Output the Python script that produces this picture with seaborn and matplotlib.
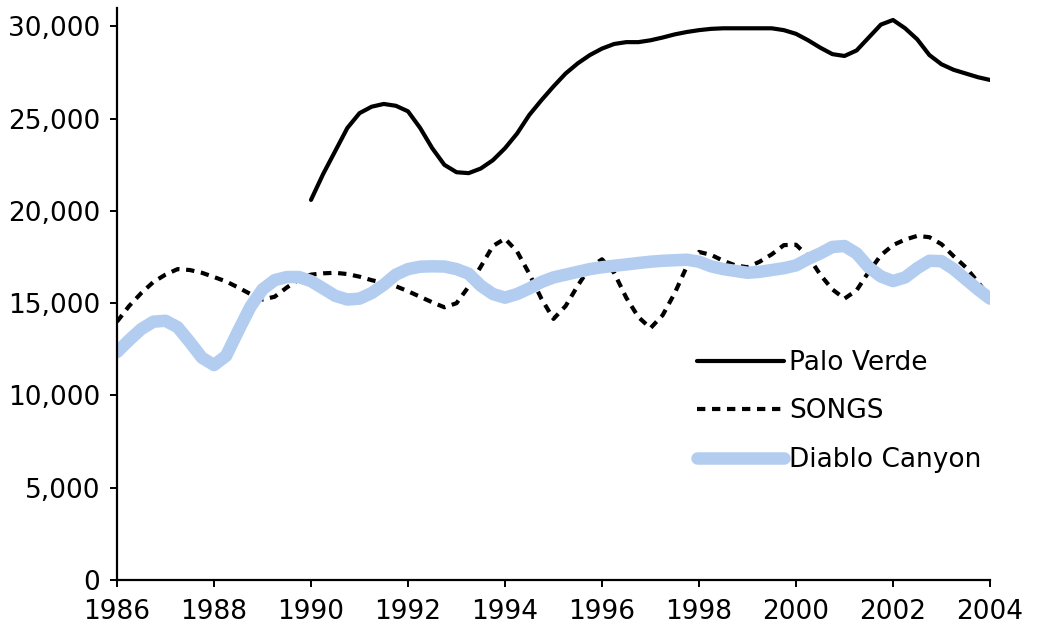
import numpy as np
import pandas as pd
import seaborn as sns
import matplotlib.pyplot as plt
from matplotlib.ticker import FuncFormatter

# quarterly readings, 1986.00 .. 2004.00
years = [1986 + 0.25 * k for k in range(73)]

songs = [14000, 14850, 15550, 16150, 16550, 16850, 16800, 16650,
         16420, 16180, 15850, 15500, 15200, 15350, 15850, 16300,
         16550, 16620, 16650, 16580, 16440, 16250, 16100, 15920,
         15650, 15350, 15050, 14780, 15000, 15900, 16980, 18100,
         18500, 17800, 16600, 15250, 14150, 14850, 15950, 16950,
         17380, 16650, 15300, 14250, 13650, 14350, 15550, 17000,
         17780, 17620, 17300, 17050, 16950, 17250, 17650, 18150,
         18170, 17550, 16550, 15750, 15250, 15700, 16700, 17600,
         18150, 18450, 18650, 18580, 18200, 17550, 16950, 16150,
         15300]

diablo = [12350, 13000, 13600, 14000, 14050, 13700, 12900, 12050,
          11650, 12150, 13500, 14800, 15750, 16250, 16420, 16420,
          16200, 15800, 15400, 15200, 15250, 15550, 16000, 16550,
          16850, 16980, 17000, 16990, 16850, 16600, 15950, 15500,
          15300, 15500, 15800, 16150, 16400, 16550, 16700, 16850,
          16950, 17030, 17100, 17180, 17250, 17300, 17330, 17360,
          17250, 17000, 16850, 16750, 16650, 16700, 16800, 16900,
          17050, 17400, 17700, 18050, 18100, 17700, 16950, 16450,
          16200, 16400, 16900, 17300, 17280, 16850, 16300, 15750,
          15250]

# Palo Verde starts in 1990
palo_verde = [np.nan] * 16 + [
    20600, 22000, 23250, 24500, 25300, 25650, 25800, 25700,
    25400, 24500, 23400, 22500, 22100, 22050, 22300, 22750,
    23400, 24200, 25200, 26000, 26750, 27450, 28000, 28450,
    28800, 29050, 29150, 29150, 29250, 29400, 29570, 29700,
    29800, 29870, 29900, 29900, 29900, 29900, 29900, 29800,
    29600, 29250, 28850, 28500, 28400, 28700, 29400, 30100,
    30350, 29900, 29300, 28450, 27950, 27650, 27450, 27250,
    27100]

plants = ['Palo Verde', 'SONGS', 'Diablo Canyon']
x_ticks = list(range(1986, 2005, 2))
y_ticks = list(range(0, 30001, 5000))

df = pd.DataFrame({'year': years, 'Palo Verde': palo_verde,
                   'SONGS': songs, 'Diablo Canyon': diablo})
df = df.melt(id_vars='year', var_name='plant', value_name='mw').dropna()

sns.set_style('ticks')
plt.rcParams['font.family'] = ['DejaVu Sans']

fig = plt.figure(figsize=(10.38, 6.39), dpi=100)
ax = fig.add_axes([117/1038, 59/639, (990-117)/1038, (580-8)/639])

sns.lineplot(ax=ax, data=df, x='year', y='mw', hue='plant', hue_order=plants,
             size='plant', sizes={'Palo Verde': 3.0, 'SONGS': 3.0, 'Diablo Canyon': 9.0},
             style='plant', dashes={'Palo Verde': '', 'SONGS': (2, 1.6), 'Diablo Canyon': ''},
             palette={'Palo Verde': 'black', 'SONGS': 'black', 'Diablo Canyon': '#b3cdf0'},
             estimator=None)
for line in ax.lines:
    line.set_solid_capstyle('round')
    line.set_solid_joinstyle('round')

ax.set_xlim(1986, 2004)
ax.set_ylim(0, 31000)
ax.set_xticks(x_ticks)
ax.set_yticks(y_ticks)
ax.yaxis.set_major_formatter(FuncFormatter(lambda v, p: '{:,.0f}'.format(v)))
ax.set_xlabel('')
ax.set_ylabel('')
sns.despine(ax=ax)
for s in ['left', 'bottom']:
    ax.spines[s].set_linewidth(1.6)
    ax.spines[s].set_color('black')
ax.tick_params(axis='both', length=5, width=1.4, labelsize=19, colors='black')
ax.tick_params(axis='x', pad=9)
ax.tick_params(axis='y', pad=7)

leg = ax.legend(loc='upper left', bbox_to_anchor=(697/1038, 1 - 350/639),
                bbox_transform=fig.transFigure, frameon=False, fontsize=19,
                handlelength=3.3, handletextpad=0.2, labelspacing=0.85,
                borderaxespad=0, borderpad=0)
for t in leg.get_texts():
    t.set_color('black')

plt.savefig('out.png', dpi=100)
